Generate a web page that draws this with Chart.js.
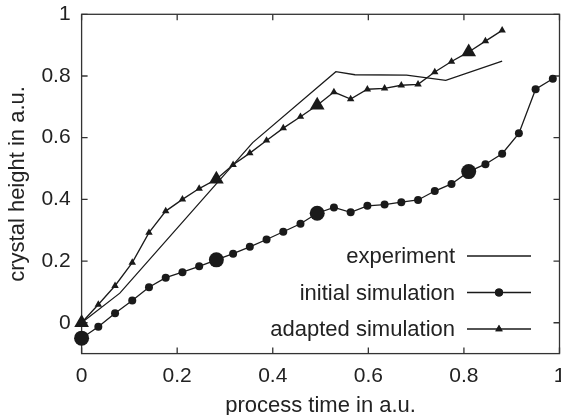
<!DOCTYPE html>
<html>
<head>
<meta charset="utf-8">
<script src="https://cdn.jsdelivr.net/npm/chart.js@4"></script>
<style>
  html, body { margin: 0; padding: 0; background: #fff; overflow: hidden; }
  #wrap { width: 561px; height: 415px; }
</style>
</head>
<body>
<div id="wrap"><canvas id="c"></canvas></div>
<script>
// tick values and their labels
const xTicks = [0, 0.2, 0.4, 0.6, 0.8, 1];
const yTicks = [0, 0.2, 0.4, 0.6, 0.8, 1];
const tickLabels = ['0', '0.2', '0.4', '0.6', '0.8', '1'];

// experiment (plain line)
const expTime = [0, 0.08, 0.358, 0.532, 0.572, 0.68, 0.762, 0.88];
const expHeight = [0, 0.096, 0.584, 0.814, 0.804, 0.803, 0.786, 0.848];

// initial simulation (circles)
const initTime = [0, 0.035, 0.070, 0.106, 0.141, 0.176, 0.211, 0.246, 0.282, 0.317,
    0.352, 0.387, 0.422, 0.458, 0.493, 0.528, 0.563, 0.598, 0.634, 0.669,
    0.704, 0.739, 0.774, 0.810, 0.845, 0.880, 0.915, 0.950, 0.986];
const initHeight = [-0.05, -0.013, 0.031, 0.072, 0.115, 0.146, 0.164, 0.183, 0.204, 0.224,
    0.246, 0.270, 0.295, 0.321, 0.355, 0.374, 0.358, 0.379, 0.383, 0.391,
    0.398, 0.427, 0.450, 0.490, 0.514, 0.548, 0.614, 0.757, 0.791];

// adapted simulation (triangles)
const adaTime = [0, 0.035, 0.070, 0.106, 0.141, 0.176, 0.211, 0.246, 0.282, 0.317,
    0.352, 0.387, 0.422, 0.458, 0.493, 0.528, 0.563, 0.598, 0.634, 0.669,
    0.704, 0.739, 0.774, 0.810, 0.845, 0.880];
const adaHeight = [0, 0.059, 0.12, 0.195, 0.292, 0.362, 0.400, 0.435, 0.465, 0.512,
    0.550, 0.591, 0.631, 0.668, 0.705, 0.748, 0.725, 0.757, 0.760, 0.770,
    0.773, 0.813, 0.847, 0.878, 0.913, 0.948];

// points drawn with a big marker
const bigIndex = [0, 8, 14, 23];

const legendNames = ['experiment', 'initial simulation', 'adapted simulation'];

const ink = '#1a1a1a';
const textColor = '#222';
const fontFamily = '"Liberation Sans", Arial, Helvetica, sans-serif';
const plotRight = 559.5;

function toPoints(xs, ys) {
    return xs.map(function(x, i) { return { x: x, y: ys[i] }; });
}

function radii(n, small, big) {
    const r = [];
    for (let i = 0; i < n; i++) r.push(bigIndex.indexOf(i) >= 0 ? big : small);
    return r;
}

// push the plot area out to the right edge, the last x label may be cut
const stretchPlugin = {
    id: 'stretch',
    afterLayout(chart) {
        const a = chart.chartArea;
        const xs = chart.scales.x;
        a.right = plotRight;
        a.width = a.right - a.left;
        xs.right = plotRight;
        xs.width = xs.right - xs.left;
        xs.configure();
    }
};

// frame with inward ticks, gnuplot style
const framePlugin = {
    id: 'frame',
    beforeDatasetsDraw(chart) {
        const ctx = chart.ctx;
        const a = chart.chartArea;
        const xs = chart.scales.x;
        const ys = chart.scales.y;
        const tl = 6;
        ctx.save();
        ctx.strokeStyle = '#333';
        ctx.lineWidth = 1.3;
        ctx.strokeRect(a.left, a.top, a.right - a.left, a.bottom - a.top);
        ctx.beginPath();
        xTicks.forEach(function(v) {
            const px = xs.getPixelForValue(v);
            ctx.moveTo(px, a.bottom); ctx.lineTo(px, a.bottom - tl);
            ctx.moveTo(px, a.top); ctx.lineTo(px, a.top + tl);
        });
        yTicks.forEach(function(v) {
            const py = ys.getPixelForValue(v);
            ctx.moveTo(a.left, py); ctx.lineTo(a.left + tl, py);
            ctx.moveTo(a.right, py); ctx.lineTo(a.right - tl, py);
        });
        ctx.stroke();
        ctx.restore();
    }
};

// legend: text right aligned, sample line to the right
const legendPlugin = {
    id: 'gpLegend',
    afterDatasetsDraw(chart) {
        const ctx = chart.ctx;
        const textRight = 455;
        const lineLeft = 467, lineRight = 531;
        const rows = [256, 292.5, 329];
        ctx.save();
        ctx.font = '22px ' + fontFamily;
        ctx.textAlign = 'right';
        ctx.textBaseline = 'middle';
        legendNames.forEach(function(name, i) {
            const y = rows[i];
            ctx.fillStyle = textColor;
            ctx.fillText(name, textRight, y + 1);
            ctx.strokeStyle = ink;
            ctx.lineWidth = 1.3;
            ctx.beginPath();
            ctx.moveTo(lineLeft, y); ctx.lineTo(lineRight, y);
            ctx.stroke();
            if (i > 0) {
                Chart.helpers.drawPoint(ctx, {
                    pointStyle: chart.data.datasets[i].pointStyle,
                    radius: i === 1 ? 4 : 4.3,
                    rotation: 0,
                    borderWidth: 0
                }, (lineLeft + lineRight) / 2, y);
                ctx.fillStyle = ink;
                ctx.fill();
            }
        });
        ctx.restore();
    }
};

const chartData = {
    datasets: [
        {
            label: legendNames[0],
            data: toPoints(expTime, expHeight),
            borderColor: ink,
            borderWidth: 1.3,
            pointRadius: 0,
            pointStyle: 'circle',
            showLine: true,
            clip: false
        },
        {
            label: legendNames[1],
            data: toPoints(initTime, initHeight),
            borderColor: ink,
            backgroundColor: ink,
            borderWidth: 1.3,
            pointStyle: 'circle',
            pointRadius: radii(initTime.length, 4, 7.5),
            pointBorderWidth: 0,
            showLine: true,
            clip: false
        },
        {
            label: legendNames[2],
            data: toPoints(adaTime, adaHeight),
            borderColor: ink,
            backgroundColor: ink,
            borderWidth: 1.3,
            pointStyle: 'triangle',
            pointRadius: radii(adaTime.length, 4.3, 8.5),
            pointBorderWidth: 0,
            showLine: true,
            clip: false
        }
    ]
};

const config = {
    type: 'scatter',
    data: chartData,
    options: {
        responsive: true,
        maintainAspectRatio: false,
        animation: false,
        layout: {
            padding: { left: 0, right: 1.5, top: 14.3, bottom: 0 }
        },
        plugins: {
            legend: { display: false },
            tooltip: { enabled: false }
        },
        scales: {
            x: {
                type: 'linear',
                min: 0,
                max: 1,
                grid: { display: false, drawTicks: false },
                border: { display: false },
                afterBuildTicks: function(scale) {
                    scale.ticks = xTicks.map(function(v) { return { value: v }; });
                },
                afterFit: function(scale) {
                    scale.height = 61.4;
                    scale.paddingLeft = 0;
                    scale.paddingRight = 0;
                },
                ticks: {
                    padding: 10,
                    color: textColor,
                    maxRotation: 0,
                    autoSkip: false,
                    font: { family: fontFamily, size: 21 },
                    callback: function(v) { return tickLabels[xTicks.indexOf(v)]; }
                },
                title: {
                    display: true,
                    text: 'process time in a.u.',
                    color: textColor,
                    padding: { top: 0, bottom: -2 },
                    font: { family: fontFamily, size: 22, lineHeight: 1 }
                }
            },
            y: {
                type: 'linear',
                min: -0.1,
                max: 1,
                grid: { display: false, drawTicks: false },
                border: { display: false },
                afterBuildTicks: function(scale) {
                    scale.ticks = yTicks.map(function(v) { return { value: v }; });
                },
                afterFit: function(scale) {
                    scale.width = 81.6;
                    scale.paddingTop = 0;
                    scale.paddingBottom = 0;
                },
                ticks: {
                    padding: 11,
                    color: textColor,
                    autoSkip: false,
                    font: { family: fontFamily, size: 21 },
                    callback: function(v) { return tickLabels[yTicks.indexOf(v)]; }
                },
                title: {
                    display: true,
                    text: 'crystal height in a.u.',
                    color: textColor,
                    padding: { top: 7, bottom: 0 },
                    font: { family: fontFamily, size: 22, lineHeight: 1 }
                }
            }
        }
    },
    plugins: [stretchPlugin, framePlugin, legendPlugin]
};

new Chart(document.getElementById('c').getContext('2d'), config);
</script>
</body>
</html>
